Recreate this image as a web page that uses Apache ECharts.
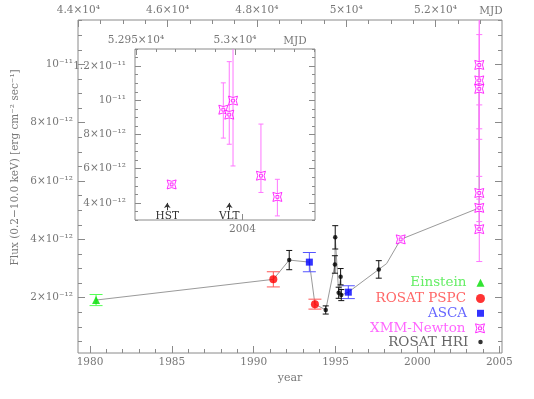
<!DOCTYPE html>
<html><head><meta charset="utf-8">
<script src="https://cdn.jsdelivr.net/npm/echarts@6/dist/echarts.min.js"></script>
<style>html,body{margin:0;padding:0;background:#fff}#c{width:534px;height:399px}</style>
</head><body><div id="c"></div>
<script>
// ---- data (flux in units of 1e-12 erg cm^-2 s^-1) ----
const einsteinYear = [1980.37];
const einsteinFlux = [1.92];
const einsteinErr  = [0.19];

const pspcYear = [1991.20, 1993.74];
const pspcFlux = [2.63, 1.78];
const pspcErr  = [0.26, 0.17];

const ascaYear = [1993.40, 1995.78];
const ascaFlux = [3.22, 2.19];
const ascaErr  = [0.33, 0.22];

const hriYear = [1992.17, 1994.40, 1994.96, 1994.98, 1995.19, 1995.31, 1995.35, 1997.64];
const hriFlux = [3.29, 1.58, 3.14, 4.07, 2.17, 2.72, 2.09, 2.97];
const hriErr  = [0.33, 0.14, 0.30, 0.40, 0.19, 0.28, 0.19, 0.30];

// XMM-Newton: first point 1999, the rest are the 2003/2004 cluster
const xmmYear  = [1998.98, 2003.78, 2003.78, 2003.78, 2003.78, 2003.78, 2003.78];
const xmmFlux  = [4.00, 5.08, 9.45, 9.16, 9.98, 5.59, 4.35];
const xmmLow   = [3.92, 4.96, 7.79, 7.43, 6.16, 4.61, 3.24];
const xmmHigh  = [4.08, 5.20, 11.02, 12.26, 13.84, 8.61, 5.38];
// inset: MJD of the 2003/2004 cluster
const xmmInsetMJD = [52968.0, 52994.1, 52997.1, 52999.0, 53013.1, 53021.4];

// unmarked vertex of the connecting line
const extraLineYear = [1998.12];
const extraLineFlux = [3.17];

// annotations (inset)
const annotNames = ['HST', 'VLT'];
const annotMJD   = [52965.8, 52997.1];

// ---- ticks / labels ----
const yearTicks = [1980, 1985, 1990, 1995, 2000, 2005];
const mjdTicks = [44000, 46000, 48000, 50000, 52000];
const mjdTickLabels = ['4.4×10⁴', '4.6×10⁴', '4.8×10⁴', '5×10⁴', '5.2×10⁴'];
const mainYTicks = [2, 4, 6, 8, 10];
const mainYTickLabels = ['2×10⁻¹²', '4×10⁻¹²', '6×10⁻¹²', '8×10⁻¹²', '10⁻¹¹'];
const insetMJDTicks = [52950, 53000];
const insetMJDTickLabels = ['5.295×10⁴', '5.3×10⁴'];
const insetYearTicks = [2004];
const insetYTicks = [4, 6, 8, 10, 12];
const insetYTickLabels = ['4×10⁻¹²', '6×10⁻¹²', '8×10⁻¹²', '10⁻¹¹', '1.2×10⁻¹¹'];

function range(a, b, s) { const r = []; for (let i = 0; a + i * s <= b + 1e-9; i++) r.push(+(a + i * s).toFixed(6)); return r; }

const FONT = 'DejaVu Serif';
const AX = '#8a8a8a';
const LAB = '#777';

function axis(gridIndex, position, min, max, ticks, len, labels, margin) {
  const o = {
    type: 'value', gridIndex, position, min, max,
    axisLine: { show: false, onZero: false },
    splitLine: { show: false },
    axisTick: { show: true, inside: true, length: len, lineStyle: { color: AX, width: 1 }, customValues: ticks },
    axisLabel: { show: false },
    axisPointer: { show: false }
  };
  if (labels) {
    o.axisLabel = {
      show: true, customValues: ticks, margin, color: LAB, fontFamily: FONT, fontSize: 10.5,
      showMinLabel: true, showMaxLabel: true, hideOverlap: false,
      formatter: v => { let bi = 0; ticks.forEach((t, i) => { if (Math.abs(t - v) < Math.abs(ticks[bi] - v)) bi = i; }); return labels[bi]; }
    };
  }
  return o;
}

const YMIN = 1979.267, YMAX = 2005.168;
const MJDMIN = 43993, MJDMAX = 53490;
const FMIN = 0.105, FMAX = 11.52;
const IMJDMIN = 52949.5, IMJDMAX = 53040.4;
const IYMIN = 2003.8514, IYMAX = 2004.1003;
const IFMIN = 3, IFMAX = 13;

const xAxis = [
  axis(0, 'bottom', YMIN, YMAX, yearTicks, 7, yearTicks.map(String), 4),
  axis(0, 'bottom', YMIN, YMAX, range(1980, 2005, 1), 4),
  axis(0, 'top', MJDMIN, MJDMAX, mjdTicks, 7, mjdTickLabels, 4),
  axis(0, 'top', MJDMIN, MJDMAX, range(44000, 53000, 500), 4),
  axis(1, 'top', IMJDMIN, IMJDMAX, insetMJDTicks, 6, insetMJDTickLabels, 3),
  axis(1, 'top', IMJDMIN, IMJDMAX, range(52950, 53040, 10), 3),
  axis(1, 'bottom', IYMIN, IYMAX, insetYearTicks, 6, insetYearTicks.map(String), 4)
];
xAxis[0].name = 'year';
xAxis[0].nameLocation = 'middle';
xAxis[0].nameGap = 14;
xAxis[0].nameTextStyle = { color: LAB, fontFamily: FONT, fontSize: 11 };

const yAxis = [
  axis(0, 'left', FMIN, FMAX, mainYTicks, 7, mainYTickLabels, 5),
  axis(0, 'left', FMIN, FMAX, range(0.5, 11.5, 0.5), 4),
  axis(0, 'right', FMIN, FMAX, mainYTicks, 7),
  axis(0, 'right', FMIN, FMAX, range(0.5, 11.5, 0.5), 4),
  axis(1, 'left', IFMIN, IFMAX, insetYTicks, 6, insetYTickLabels, 9),
  axis(1, 'left', IFMIN, IFMAX, range(3, 13, 0.5), 3),
  axis(1, 'right', IFMIN, IFMAX, insetYTicks, 6),
  axis(1, 'right', IFMIN, IFMAX, range(3, 13, 0.5), 3)
];

function errRender(capHalf, color) {
  return function (params, api) {
    const x = api.value(0), lo = api.value(1), hi = api.value(2);
    const a = api.coord([x, lo]), b = api.coord([x, hi]);
    const style = { stroke: color, lineWidth: 1 };
    return { type: 'group', children: [
      { type: 'line', shape: { x1: a[0], y1: a[1], x2: b[0], y2: b[1] }, style },
      { type: 'line', shape: { x1: a[0] - capHalf, y1: a[1], x2: a[0] + capHalf, y2: a[1] }, style },
      { type: 'line', shape: { x1: b[0] - capHalf, y1: b[1], x2: b[0] + capHalf, y2: b[1] }, style }
    ]};
  };
}
function errSeries(xs, lo, hi, capHalf, color, xi, yi) {
  return {
    type: 'custom', xAxisIndex: xi, yAxisIndex: yi, clip: true, z: 2, silent: true,
    renderItem: errRender(capHalf, color),
    encode: { x: 0, y: [1, 2] },
    data: xs.map((x, i) => [x, lo[i], hi[i]])
  };
}
const symLo = (f, e) => f.map((v, i) => v - e[i]);
const symHi = (f, e) => f.map((v, i) => v + e[i]);
const pairs = (xs, ys) => xs.map((x, i) => [x, ys[i]]);

const XMM_PATH = 'path://M0,0Q5,3 10,0Q7,5 10,10Q5,7 0,10Q3,5 0,0ZM3.4,3.4L6.6,3.4L6.6,6.6L3.4,6.6Z';
const XMM_STYLE = { color: '#ffffff', borderColor: '#ff00ff', borderWidth: 1 };

// connecting line
const linePts = [].concat(
  pairs(einsteinYear, einsteinFlux), pairs(pspcYear, pspcFlux), pairs(ascaYear, ascaFlux),
  pairs(hriYear, hriFlux), pairs(xmmYear, xmmFlux), pairs(extraLineYear, extraLineFlux)
).sort((p, q) => p[0] - q[0]);

const series = [
  { type: 'line', xAxisIndex: 0, yAxisIndex: 0, data: linePts, symbol: 'none', z: 1, silent: true,
    lineStyle: { color: '#9a9a9a', width: 1 } },
  errSeries(einsteinYear, symLo(einsteinFlux, einsteinErr), symHi(einsteinFlux, einsteinErr), 6.5, '#55ff55', 0, 0),
  errSeries(pspcYear, symLo(pspcFlux, pspcErr), symHi(pspcFlux, pspcErr), 6.5, '#ff5555', 0, 0),
  errSeries(ascaYear, symLo(ascaFlux, ascaErr), symHi(ascaFlux, ascaErr), 6.5, '#5555ff', 0, 0),
  errSeries(xmmYear, xmmLow, xmmHigh, 3, '#ff77ff', 0, 0),
  errSeries(hriYear, symLo(hriFlux, hriErr), symHi(hriFlux, hriErr), 3, '#111', 0, 0),
  errSeries(xmmInsetMJD, xmmLow.slice(1), xmmHigh.slice(1), 2.5, '#ff77ff', 4, 4),
  { name: 'Einstein', type: 'scatter', xAxisIndex: 0, yAxisIndex: 0, z: 3, symbol: 'triangle', symbolSize: 8,
    itemStyle: { color: '#00dd00' }, data: pairs(einsteinYear, einsteinFlux) },
  { name: 'ROSAT PSPC', type: 'scatter', xAxisIndex: 0, yAxisIndex: 0, z: 3, symbol: 'circle', symbolSize: 8,
    itemStyle: { color: '#ff0000' }, data: pairs(pspcYear, pspcFlux) },
  { name: 'ASCA', type: 'scatter', xAxisIndex: 0, yAxisIndex: 0, z: 3, symbol: 'rect', symbolSize: 7,
    itemStyle: { color: '#0000ff' }, data: pairs(ascaYear, ascaFlux) },
  { name: 'XMM-Newton', type: 'scatter', xAxisIndex: 0, yAxisIndex: 0, z: 3, symbol: XMM_PATH, symbolSize: 9,
    itemStyle: XMM_STYLE, data: pairs(xmmYear, xmmFlux) },
  { name: 'ROSAT HRI', type: 'scatter', xAxisIndex: 0, yAxisIndex: 0, z: 3, symbol: 'circle', symbolSize: 4.5,
    itemStyle: { color: '#000' }, data: pairs(hriYear, hriFlux) },
  { type: 'scatter', xAxisIndex: 4, yAxisIndex: 4, z: 3, symbol: XMM_PATH, symbolSize: 9,
    itemStyle: XMM_STYLE,
    data: pairs(xmmInsetMJD, xmmFlux.slice(1)),
    markLine: {
      silent: true, animation: false, symbol: ['none', 'arrow'], symbolSize: [5, 5],
      lineStyle: { color: '#333', width: 1, type: 'solid' },
      label: { show: true, position: 'start', distance: 1, color: '#333', fontFamily: FONT, fontSize: 10.5,
        formatter: p => p.name },
      data: annotMJD.map((m, i) => [{ name: annotNames[i], coord: [m, 3.57] }, { coord: [m, 4.0] }])
    }
  }
];

function leg(name, color, w, cy, icon, itemStyle) {
  const o = {
    data: [name], orient: 'vertical', align: 'right', right: 53.5 - w / 2, top: cy - 7, padding: 0,
    itemWidth: w, itemHeight: w, selectedMode: false,
    textStyle: { color, fontFamily: FONT, fontSize: 13.5, lineHeight: 14, padding: [0, 5, 0, 0] }
  };
  if (icon) o.icon = icon;
  if (itemStyle) o.itemStyle = itemStyle;
  return o;
}

const option = {
  animation: false,
  backgroundColor: '#fff',
  grid: [
    { left: 78, right: 32, top: 20, bottom: 46, show: true, borderColor: AX, borderWidth: 1, backgroundColor: 'transparent' },
    { left: 135, right: 219, top: 49, bottom: 179, show: true, borderColor: AX, borderWidth: 1, backgroundColor: 'transparent' }
  ],
  xAxis, yAxis, series,
  legend: [
    leg('Einstein', '#66ee66', 8, 282.7),
    leg('ROSAT PSPC', '#ff6666', 9, 298.5),
    leg('ASCA', '#6666ff', 7, 313.3),
    leg('XMM-Newton', '#ff66ff', 9, 328.3, XMM_PATH, XMM_STYLE),
    leg('ROSAT HRI', '#666666', 4.5, 342)
  ],
  graphic: [
    { type: 'text', x: 15, y: 167.4, rotation: Math.PI / 2,
      style: { text: 'Flux (0.2−10.0 keV) [erg cm⁻² sec⁻¹]', fill: LAB, font: '10.5px "DejaVu Serif"', textAlign: 'center', textVerticalAlign: 'middle' } },
    { type: 'text', x: 491, y: 11.3,
      style: { text: 'MJD', fill: LAB, font: '10.5px "DejaVu Serif"', textAlign: 'center', textVerticalAlign: 'middle' } },
    { type: 'text', x: 295, y: 41.7,
      style: { text: 'MJD', fill: LAB, font: '10.5px "DejaVu Serif"', textAlign: 'center', textVerticalAlign: 'middle' } }
  ]
};

const chart = echarts.init(document.getElementById('c'), null, { renderer: 'canvas' });
chart.setOption(option);
</script>
</body></html>
